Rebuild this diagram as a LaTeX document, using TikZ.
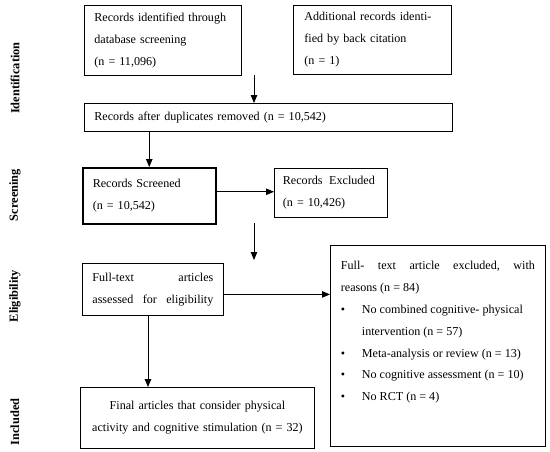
\documentclass[tikz,border=0pt]{standalone}
\usepackage{fontspec}
\setmainfont{Liberation Serif}
\usetikzlibrary{arrows.meta}
\begin{document}
\begin{tikzpicture}[x=1pt,y=-1pt,
  every node/.style={font=\fontsize{12.1}{22}\selectfont},
  box/.style={draw=black, line width=0.8pt, rectangle, anchor=north west, align=left, inner ysep=0pt},
  arr/.style={draw=black, line width=0.8pt, -{Triangle[length=8pt,width=6.5pt]}},
  side/.style={rotate=90, font=\fontsize{12.4}{14}\selectfont\bfseries, inner sep=0pt}
]
\useasboundingbox (0,0) rectangle (550,451);
\fill[white] (0,0) rectangle (550,451);

% side labels
\node[side] (lid) at (15,78) {Identification};
\node[side] (lsc) at (15,195) {Screening};
\node[side] (lel) at (15,296) {Eligibility};
\node[side] (lin) at (15,422) {Included};

% boxes
\node[box, text width=137pt, inner xsep=10pt, minimum height=70pt] (b1) at (84,5)
  {Records identified through\\database screening\\(n = 11,096)};
\node[box, text width=136pt, inner xsep=11pt, minimum height=69pt] (b2) at (293,5)
  {Additional records identi-\\fied by back citation\\(n = 1)};
\node[box, text width=348pt, inner xsep=10pt, minimum height=28pt] (b3) at (84,103)
  {Records after duplicates removed (n = 10,542)};
\node[box, line width=1.5pt, text width=113pt, inner xsep=10pt, minimum height=56pt] (scr) at (82,167)
  {Records Screened\\(n = 10,542)};
\node[box, text width=96pt, inner xsep=8.5pt, minimum height=49.5pt] (ex1) at (274,167.5)
  {Records\hspace{0.55em}Excluded\\(n = 10,426)};
\node[box, text width=121pt, inner xsep=10pt, minimum height=52pt] (ft) at (82,263)
  {Full-text\hfill articles\\assessed\hfill for\hfill eligibility};
\node[box, inner xsep=10.5pt, inner ysep=12pt] (ex2) at (330,245)
  {\begin{minipage}[c][177pt][t]{194pt}\fontsize{12.1}{21.8}\selectfont
   \vspace*{4pt}%
   Full-\hfill text\hfill article\hfill excluded,\hfill with\par
   \raggedright reasons (n = 84)\par
   \hangindent=21pt\hangafter=1\noindent\makebox[21pt][l]{\textbullet}No combined cognitive- physical\newline intervention (n = 57)\par
   \noindent\makebox[21pt][l]{\textbullet}Meta-analysis or review (n = 13)\par
   \noindent\makebox[21pt][l]{\textbullet}No cognitive assessment (n = 10)\par
   \noindent\makebox[21pt][l]{\textbullet}No RCT (n = 4)\par
   \end{minipage}};
\node[box, align=center, text width=218pt, inner xsep=8pt, minimum height=61pt] (fin) at (80,387)
  {Final articles that consider physical\\activity and cognitive stimulation (n = 32)};

% connectors
\coordinate (a1s) at (254,75);
\draw[arr] (a1s) -- (a1s |- b3.north);
\draw[arr] (b3.south -| scr.north) -- (scr.north);
\draw[arr] ([yshift=4pt]scr.east) -- ([yshift=4pt]scr.east -| ex1.west);
\coordinate (a4s) at (254,223);
\coordinate (a4e) at (254,260);
\draw[arr] (a4s) -- (a4e);
\draw[arr] ([yshift=-5pt]ft.east) -- ([yshift=-5pt]ft.east -| ex2.west);
\coordinate (a6x) at (148,0);
\draw[arr] (ft.south -| a6x) -- (a6x |- fin.north);
\end{tikzpicture}
\end{document}
